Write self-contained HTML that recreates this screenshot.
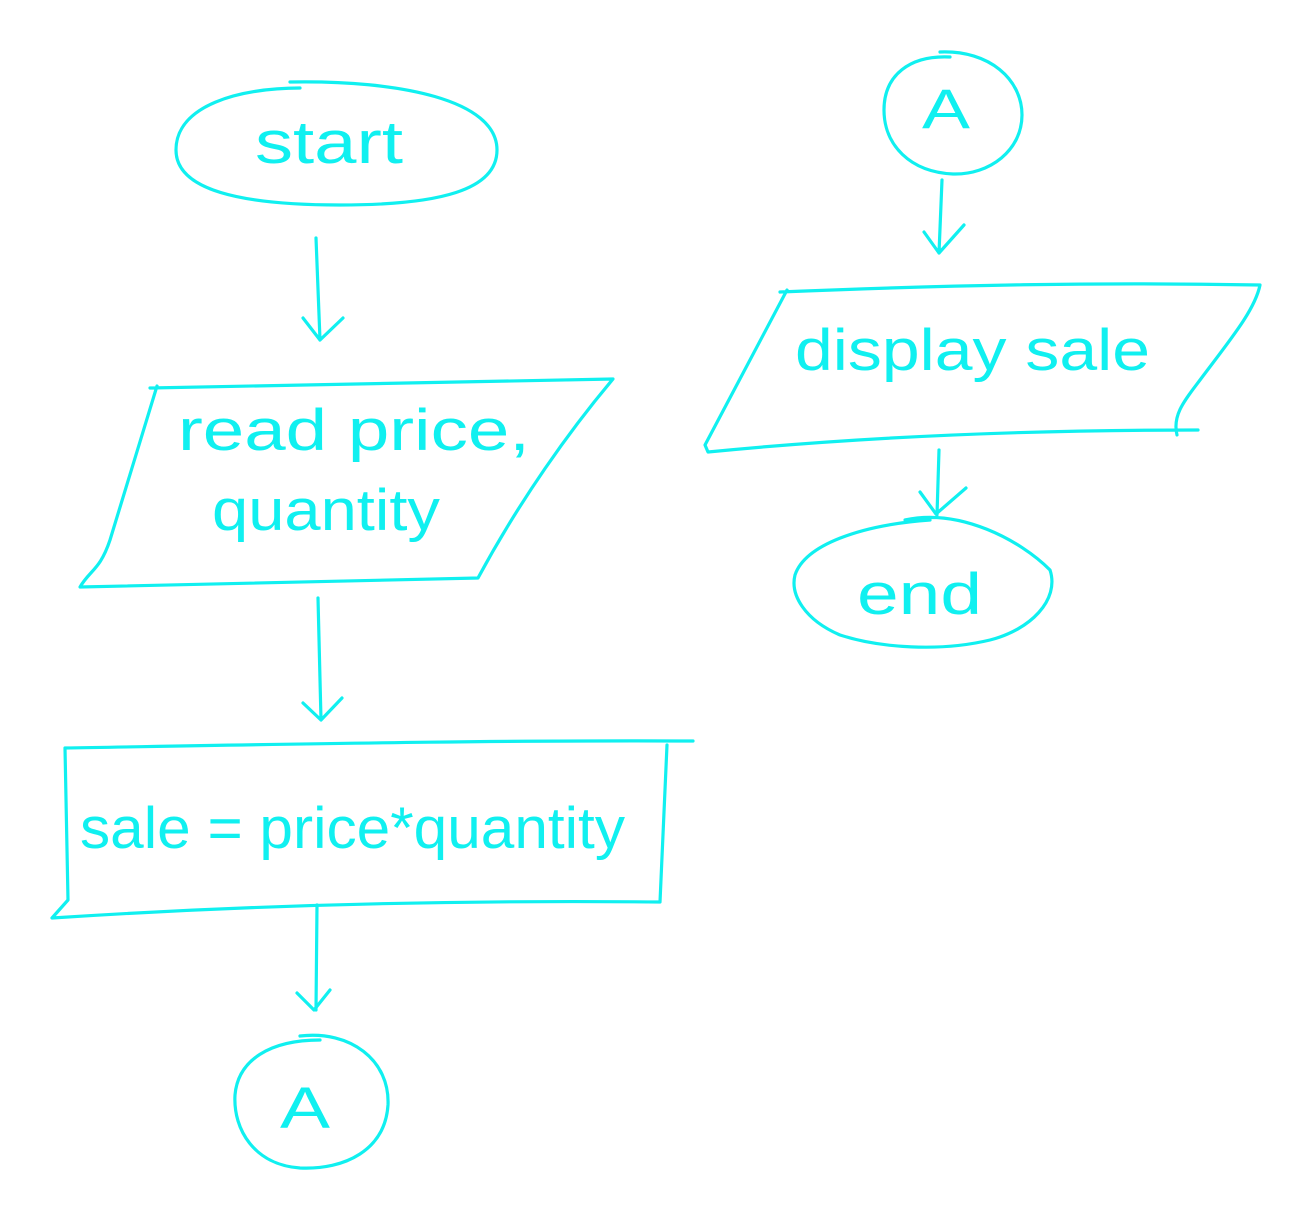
<!DOCTYPE html>
<html><head><meta charset="utf-8"><style>
html,body{margin:0;padding:0;background:#fff;}
svg{display:block}
text{font-family:"Liberation Sans",sans-serif;fill:#10f0f0;font-weight:300}
</style></head><body>
<svg width="1313" height="1222" viewBox="0 0 1313 1222" xmlns="http://www.w3.org/2000/svg">
<g fill="none" stroke="#10f0f0" stroke-width="3.2" stroke-linecap="round" stroke-linejoin="round">
<path d="M290 82 C400 80 497 100 497 150 C497 190 440 205 340 205 C240 205 176 190 176 150 C176 105 240 88 300 88"/>
<path d="M316 238 L320 340 M303 318 L320 340 L343 318"/>
<path d="M150 388 L613 379 C570 430 520 500 478 578 L80 587 C90 570 100 570 110 540 L157 386"/>
<path d="M318 598 L321 720 M303 703 L321 720 L342 698"/>
<path d="M65 748 C300 744 500 740 693 741 M65 748 L68 900 L52 918 C250 905 450 900 660 902 L667 745"/>
<path d="M317 905 L316 1010 M297 993 L314 1010 L330 990"/>
<path d="M300 1036 C350 1030 390 1060 388 1105 C385 1150 345 1170 300 1168 C255 1165 233 1130 235 1095 C238 1060 270 1040 320 1040"/>
<path d="M940 52 C990 50 1022 80 1022 115 C1022 150 990 175 953 174 C910 172 884 145 884 110 C884 75 910 55 950 57"/>
<path d="M942 180 L939 253 M924 232 L939 253 L964 225"/>
<path d="M780 292 C950 285 1100 282 1260 285 C1255 310 1230 340 1200 380 C1185 400 1172 415 1177 435 M1198 430 C1050 430 880 435 708 452 L705 445 L787 290"/>
<path d="M939 450 L937 515 M920 492 L936 514 L966 488"/>
<path d="M905 520 C960 508 1020 540 1050 570 C1060 600 1030 630 990 640 C940 652 880 648 840 635 C805 620 790 595 795 575 C805 545 860 525 930 520"/>
</g>
<text x="255" y="163" font-size="60" textLength="148" lengthAdjust="spacingAndGlyphs">start</text>
<text x="178" y="450" font-size="58" textLength="352" lengthAdjust="spacingAndGlyphs">read  price,</text>
<text x="212" y="530" font-size="58" textLength="228" lengthAdjust="spacingAndGlyphs">quantity</text>
<text x="80" y="848" font-size="58" textLength="545" lengthAdjust="spacingAndGlyphs">sale = price*quantity</text>
<text x="280" y="1128" font-size="58" textLength="50" lengthAdjust="spacingAndGlyphs">A</text>
<text x="922" y="128" font-size="56" textLength="48" lengthAdjust="spacingAndGlyphs">A</text>
<text x="795" y="370" font-size="58" textLength="355" lengthAdjust="spacingAndGlyphs">display sale</text>
<text x="857" y="614" font-size="58" textLength="125" lengthAdjust="spacingAndGlyphs">end</text>
</svg>
</body></html>
